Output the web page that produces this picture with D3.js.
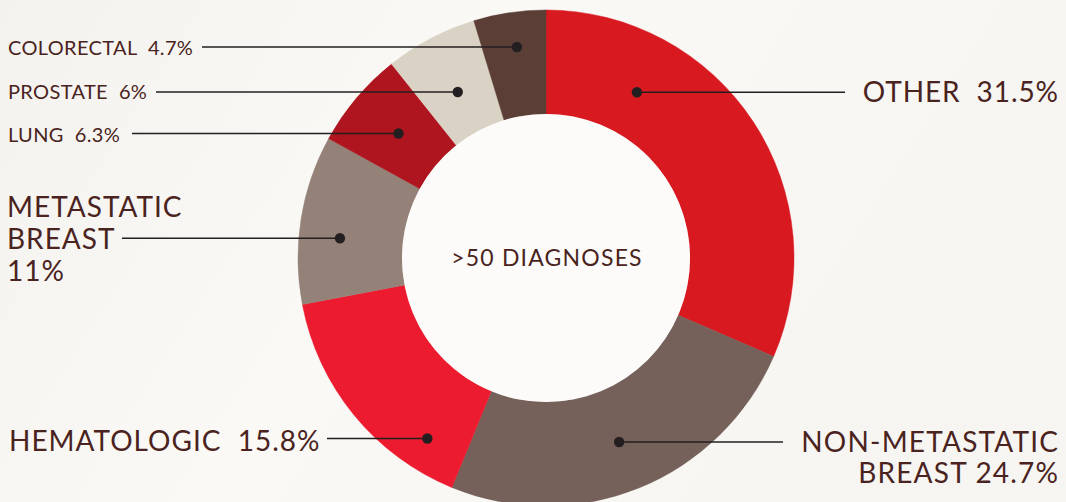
<!DOCTYPE html>
<html><head><meta charset="utf-8">
<script src="https://cdn.jsdelivr.net/npm/d3@7"></script>
<style>
html,body{margin:0;padding:0;background:#f8f7f4;}
svg{display:block;}
text{font-family:"Lato","Open Sans",sans-serif;fill:#4a2320;white-space:pre;}
</style></head>
<body><svg id="chart" width="1066" height="502"></svg>
<script>
// ---- data ----
const categories = ["OTHER","NON-METASTATIC BREAST","HEMATOLOGIC","METASTATIC BREAST","LUNG","PROSTATE","COLORECTAL"];
const values = [31.5, 24.7, 15.8, 11, 6.3, 6, 4.7];
const valueLabels = ["31.5%","24.7%","15.8%","11%","6.3%","6%","4.7%"];
const centerLabel = ">50 DIAGNOSES";

// ---- style / layout ----
const colors = ["#d81920","#76615a","#ed1b2f","#948279","#ae151e","#dad3c5","#5b3f37"];
const W = 1066, H = 502, cx = 546, cy = 258, R = 248, r0 = 144;
// label layout: lines of text, anchor, text x, first baseline, font size, letter spacing, line spacing, leader y, leader end x, dot radius
const labelLayout = [
  {lines:["OTHER  31.5%"], anchor:"end", x:1058, y:102, fs:28, ls:0.9, lh:31, ly:92.3, lx:845, dr:189},
  {lines:["NON-METASTATIC","BREAST 24.7%"], anchor:"end", x:1058, y:451.5, fs:28, ls:1.2, lh:31.5, ly:442, lx:783, dr:198},
  {lines:["HEMATOLOGIC  15.8%"], anchor:"start", x:9, y:451, fs:28, ls:1.0, lh:31, ly:438.5, lx:327, dr:216},
  {lines:["METASTATIC","BREAST","11%"], anchor:"start", x:7, y:216.5, fs:28, ls:1.0, lh:32, ly:238.3, lx:122, dr:207},
  {lines:["LUNG  6.3%"], anchor:"start", x:8, y:142, fs:20, ls:0.35, lh:20, ly:133.5, lx:132, dr:193},
  {lines:["PROSTATE  6%"], anchor:"start", x:8, y:98.5, fs:20, ls:0.35, lh:20, ly:92, lx:156, dr:188},
  {lines:["COLORECTAL  4.7%"], anchor:"start", x:8, y:55, fs:20, ls:0.35, lh:20, ly:47, lx:202, dr:213}
];

const svg = d3.select("#chart");
const defs = svg.append("defs");
const grad = defs.append("linearGradient").attr("id","bg").attr("x1","0").attr("y1","0").attr("x2","1").attr("y2","0.3");
grad.append("stop").attr("offset","0").attr("stop-color","#f4f2ee");
grad.append("stop").attr("offset","0.45").attr("stop-color","#faf9f6");
grad.append("stop").attr("offset","1").attr("stop-color","#f7f5f2");
svg.append("rect").attr("width",W).attr("height",H).attr("fill","url(#bg)");

const pie = d3.pie().sort(null).value(d => d);
const arcs = pie(values);
const arc = d3.arc().innerRadius(r0).outerRadius(R);

const g = svg.append("g").attr("transform",`translate(${cx},${cy})`);
g.selectAll("path.slice").data(arcs).join("path")
  .attr("class","slice").attr("d",arc).attr("fill",(d,i)=>colors[i])
  .attr("stroke",(d,i)=>colors[i]).attr("stroke-width",0.5);
g.append("circle").attr("r",r0).attr("fill","#fcfbf9");

g.append("text").attr("text-anchor","middle").attr("x",1).attr("y",8).attr("font-size",23)
  .attr("letter-spacing",1.2).text(centerLabel);

// leaders & labels
arcs.forEach((a,i) => {
  const L = labelLayout[i];
  const mid = (a.startAngle + a.endAngle)/2;
  const side = Math.sin(mid) >= 0 ? 1 : -1;
  const dy = L.ly - cy;
  const dx = side * Math.sqrt(Math.max(0, L.dr*L.dr - dy*dy));
  const px = cx + dx, py = L.ly;
  svg.append("line").attr("x1",L.lx).attr("y1",py).attr("x2",px).attr("y2",py)
    .attr("stroke","#231f20").attr("stroke-width",1.5);
  svg.append("circle").attr("cx",px).attr("cy",py).attr("r",5.2).attr("fill","#231f20");
  const t = svg.append("text").attr("text-anchor",L.anchor).attr("font-size",L.fs)
    .attr("letter-spacing",L.ls);
  L.lines.forEach((ln,k) => {
    t.append("tspan").attr("x",L.anchor==="end" ? L.x + L.ls : L.x).attr("y",L.y + k*L.lh).text(ln);
  });
});
</script></body></html>
